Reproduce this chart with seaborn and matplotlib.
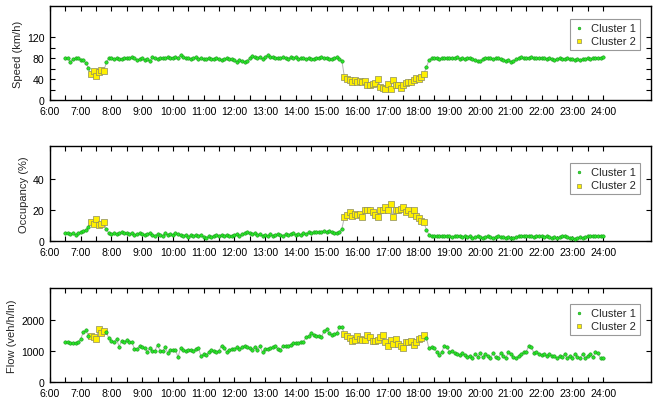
import numpy as np
import pandas as pd
import matplotlib
matplotlib.use('Agg')
import matplotlib.pyplot as plt
import seaborn as sns

# 5-minute samples from 6:30 to 24:00
start_hour = 6.5
step_min = 5

speed = [80, 80, 73, 78, 80, 81,
         77, 76, 71, 62, 49, 56, 46, 54, 57, 55, 72, 80,
         81, 79, 80, 79, 79, 80, 80, 81, 82, 80, 77, 78,
         80, 76, 79, 74, 82, 81, 78, 80, 80, 81, 82, 81,
         81, 82, 81, 86, 82, 81, 80, 78, 80, 82, 79, 80,
         78, 79, 80, 79, 78, 80, 79, 77, 78, 80, 79, 78,
         77, 73, 76, 74, 72, 75, 80, 84, 82, 81, 83, 78,
         83, 86, 82, 82, 81, 81, 80, 82, 81, 79, 82, 81,
         82, 79, 80, 81, 79, 80, 78, 79, 81, 80, 82, 80,
         81, 79, 78, 80, 82, 79, 75, 44, 41, 39, 34, 39,
         35, 37, 34, 37, 29, 28, 31, 32, 41, 25, 23, 21,
         31, 21, 39, 29, 28, 23, 29, 33, 35, 34, 39, 42,
         41, 45, 50, 63, 76, 80, 80, 81, 79, 80, 81, 80,
         80, 81, 80, 82, 79, 80, 78, 80, 81, 79, 77, 75,
         75, 78, 80, 81, 80, 79, 80, 81, 79, 77, 75, 76,
         73, 74, 78, 80, 82, 81, 80, 81, 82, 81, 80, 80,
         81, 80, 79, 80, 78, 77, 79, 80, 79, 78, 80, 79,
         78, 77, 78, 77, 78, 79, 80, 79, 80, 81, 80, 81,
         82]

occupancy = [5, 5, 4.5, 5, 4, 5,
             5.5, 6.5, 7, 9, 12, 11, 14, 10, 11, 12.5, 7.5, 5,
             4.5, 5, 4.5, 5, 5.5, 5, 5, 4.5, 5, 4, 4.5, 5,
             4.5, 4, 4.5, 5, 4, 3.5, 4.5, 4, 3.5, 5, 4, 4.5,
             4, 5, 4.5, 4, 3.5, 4, 2.5, 4, 3.5, 4, 3.5, 4,
             2.5, 2, 3, 2.5, 3.5, 4, 3.5, 4, 3.5, 4, 3.5, 3.5,
             4, 4.5, 3.5, 4.5, 5, 5.5, 5, 4.5, 5, 4, 4.5, 3.5,
             4, 3, 4.5, 3.5, 4, 4.5, 4, 3.5, 4.5, 4, 4.5, 5,
             4, 4.5, 4, 5, 4.5, 5.5, 5, 5.5, 6, 5.5, 6, 6.5,
             6, 6.5, 6, 5, 5, 6, 8, 15.3, 16.8, 18.5, 16.3, 17.4,
             16.8, 17.4, 15.3, 19.6, 20.2, 19.6, 18.5, 16.8, 15.3, 19.6, 20.2, 21.7,
             20, 23.9, 15.3, 19.6, 20.2, 20.6, 21.7, 18.5, 19.6, 17.4, 20, 15.9,
             14.6, 13.1, 12, 7.3, 4, 3.5, 3.5, 3, 3.5, 3, 3.5, 3,
             3, 2.5, 3, 3.5, 3, 2.5, 3, 2.5, 3, 2, 2.5, 3,
             2.5, 2, 2.5, 3, 2.5, 2, 2.5, 3, 2.5, 2.5, 2, 2.5,
             2, 2, 2.5, 3, 3, 3.5, 3, 3.5, 3, 2.5, 3, 3,
             3, 2.5, 3, 2.5, 2, 2.5, 2, 2.5, 3, 3, 2.5, 2,
             2, 1.5, 2, 2.5, 2, 2.5, 3, 3, 3.5, 3, 3.5, 3.5,
             3.5]

flow = [1280, 1280, 1250, 1260, 1260, 1280,
        1390, 1600, 1660, 1495, 1473, 1441, 1387, 1710, 1570, 1634, 1602, 1409,
        1333, 1280, 1387, 1140, 1333, 1280, 1355, 1280, 1280, 1065, 1065, 1150,
        1118, 1086, 978, 1097, 989, 1011, 1194, 1011, 989, 1118, 935, 1032,
        1032, 1043, 796, 1097, 1032, 989, 1032, 1043, 1011, 1065, 1086, 828,
        900, 860, 958, 1043, 1011, 958, 1011, 1172, 1097, 958, 1032, 1065,
        1065, 1118, 1065, 1140, 1172, 1118, 1086, 1043, 1140, 1032, 1150, 958,
        1065, 1065, 1086, 1118, 1172, 1065, 1043, 1172, 1172, 1172, 1204, 1247,
        1247, 1247, 1280, 1301, 1441, 1473, 1570, 1527, 1495, 1473, 1441, 1634,
        1710, 1570, 1527, 1548, 1570, 1785, 1763, 1548, 1473, 1409, 1312, 1366,
        1495, 1387, 1355, 1355, 1527, 1441, 1312, 1333, 1355, 1441, 1516, 1280,
        1151, 1366, 1226, 1387, 1226, 1172, 1097, 1280, 1301, 1333, 1194, 1280,
        1387, 1409, 1516, 1420, 1086, 1118, 1086, 978, 882, 957, 1172, 1140,
        978, 1011, 925, 903, 871, 925, 871, 817, 839, 764, 903, 817,
        925, 796, 903, 839, 764, 925, 796, 764, 925, 839, 764, 957,
        903, 796, 764, 839, 903, 957, 978, 1172, 1118, 935, 978, 903,
        871, 903, 850, 903, 850, 839, 764, 839, 796, 903, 764, 850,
        764, 903, 796, 764, 903, 764, 850, 903, 796, 957, 925, 764,
        780]

cluster = [1] * 10 + [2] * 6 + [1] * 93 + [2] * 32 + [1] * 70

hour_ticks = list(range(6, 25))
hour_labels = [f'{h}:00' for h in hour_ticks]

n = len(speed)
assert len(occupancy) == n and len(flow) == n and len(cluster) == n
df = pd.DataFrame({'hour': start_hour + np.arange(n) * step_min / 60,
                   'speed': speed, 'occ': occupancy, 'flow': flow,
                   'cluster': cluster})
c1 = df[df['cluster'] == 1]
c2 = df[df['cluster'] == 2]

sns.set_style('ticks')
plt.rcParams['font.family'] = ['Liberation Sans', 'DejaVu Sans']

fig = plt.figure(figsize=(6.55, 4.06), dpi=100)

panels = [
    ('speed', 'Speed (km/h)', (0, 180), [0, 40, 80, 120], [20, 60, 100], [0.7512, 0.2315], 0.862),
    ('occ', 'Occupancy (%)', (0, 61), [0, 20, 40], [], [0.404, 0.234], 0.818),
    ('flow', 'Flow (veh/h/ln)', (0, 3030), [0, 1000, 2000], [], [0.0567, 0.2315], 0.83),
]

for col, ylab, ylim, yt, ymin_t, (bot, h), leg_top in panels:
    ax = fig.add_axes([0.0763, bot, 0.9176, h])
    ax.plot(df['hour'], df[col], color='#b4b4b4', lw=0.7, zorder=1)
    sns.scatterplot(data=c2, x='hour', y=col, ax=ax, marker='s', s=20,
                    color='#fff000', edgecolor='#8c8c60', linewidth=0.5,
                    label='Cluster 2', zorder=2)
    sns.scatterplot(data=c1, x='hour', y=col, ax=ax, marker='o', s=6,
                    color='#2ae62a', edgecolor='#149614', linewidth=0.4,
                    label='Cluster 1', zorder=3)
    ax.set_xlim(6, 25.56)
    ax.set_ylim(*ylim)
    ax.set_xticks(hour_ticks)
    ax.set_xticklabels(hour_labels)
    ax.set_xticks([h + 0.5 for h in hour_ticks[:-1]], minor=True)
    ax.set_yticks(yt)
    ax.set_yticks(ymin_t, minor=True)
    ax.tick_params(which='both', direction='in', top=True, right=True,
                   length=3.5, width=0.8, labelsize=7.6, pad=4, colors='black')
    for sp in ax.spines.values():
        sp.set_linewidth(1.0)
        sp.set_color('black')
    ax.set_xlabel('')
    ax.set_ylabel(ylab, fontsize=8, labelpad=3)

    handles, labels = ax.get_legend_handles_labels()
    order = [labels.index('Cluster 1'), labels.index('Cluster 2')]
    leg = ax.legend([handles[i] for i in order], [labels[i] for i in order],
                    loc='upper right', bbox_to_anchor=(0.982, leg_top),
                    frameon=True, fancybox=False, edgecolor='#808080',
                    fontsize=8, borderpad=0.35, labelspacing=0.3,
                    handlelength=1.0, handletextpad=0.6, borderaxespad=0,
                    markerscale=0.8)
    leg.get_frame().set_linewidth(0.8)

fig.savefig('out.png', dpi=100)
